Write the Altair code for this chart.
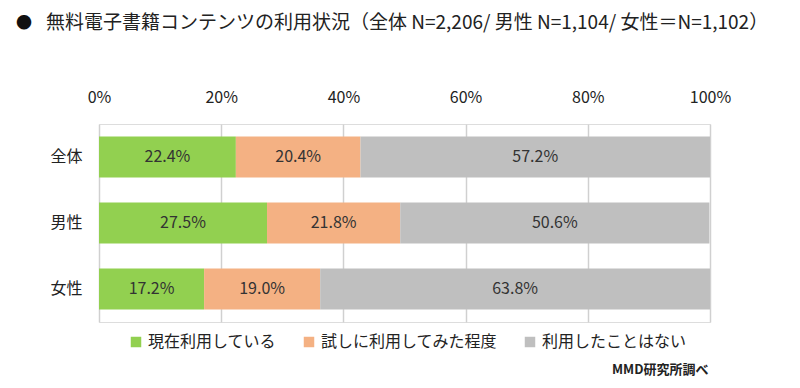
import altair as alt
import pandas as pd

categories = ["全体", "男性", "女性"]
series = ["現在利用している", "試しに利用してみた程度", "利用したことはない"]
colors = ["#92D050", "#F4B183", "#BFBFBF"]
values = {
    "現在利用している": [22.4, 27.5, 17.2],
    "試しに利用してみた程度": [20.4, 21.8, 19.0],
    "利用したことはない": [57.2, 50.6, 63.8],
}
title_text = "無料電子書籍コンテンツの利用状況（全体 N=2,206/ 男性 N=1,104/ 女性＝N=1,102）"
credit = "MMD研究所調べ"

rows = []
for ci, c in enumerate(categories):
    for si, s in enumerate(series):
        rows.append({"cat": c, "series": s, "order": si, "value": values[s][ci],
                     "label": f"{values[s][ci]:.1f}%"})
df = pd.DataFrame(rows)

FONT = "Noto Sans CJK JP"

base = alt.Chart(df).encode(
    y=alt.Y("cat:N", sort=categories, title=None,
            scale=alt.Scale(paddingInner=0.38, paddingOuter=0.19),
            axis=alt.Axis(labelFontSize=16, labelFont=FONT, labelColor="#222",
                          ticks=False, domain=False, labelPadding=17)),
)

bars = base.mark_bar().encode(
    x=alt.X("value:Q", stack="zero", title=None,
            scale=alt.Scale(domain=[0, 100], nice=False),
            axis=alt.Axis(orient="top", values=[0, 20, 40, 60, 80, 100],
                          labelExpr="datum.value + '%'", labelFontSize=16,
                          labelFont=FONT, labelColor="#222", ticks=False,
                          labelFlush=False, labelOverlap=False,
                          domain=False, labelPadding=19, grid=True,
                          gridColor="#D0D0D0", gridWidth=1.5)),
    color=alt.Color("series:N", sort=series,
                    scale=alt.Scale(domain=series, range=colors),
                    legend=alt.Legend(title=None, orient="none", direction="horizontal",
                                      legendX=29, legendY=210, symbolType="square",
                                      symbolSize=110, symbolStrokeWidth=0,
                                      labelFontSize=16, labelFont=FONT, labelColor="#222",
                                      labelLimit=0, columnPadding=24, labelOffset=4)),
    order=alt.Order("order:Q"),
)

labels = base.mark_text(fontSize=16, font=FONT, color="#333").encode(
    x=alt.X("value:Q", stack="zero", bandPosition=0.5),
    text="label:N",
    order=alt.Order("order:Q"),
)

bullet = alt.Chart(pd.DataFrame({"t": ["●"]})).mark_text(
    align="left", baseline="middle", fontSize=16, font=FONT, color="#111"
).encode(x=alt.value(-83), y=alt.value(-101), text="t:N")

title = alt.Chart(pd.DataFrame({"t": [title_text]})).mark_text(
    align="left", baseline="middle", fontSize=19, font=FONT, color="#222"
).encode(x=alt.value(-53), y=alt.value(-101), text="t:N")

cred = alt.Chart(pd.DataFrame({"t": [credit]})).mark_text(
    align="left", baseline="middle", fontSize=13, font=FONT, color="#222",
    fontWeight="bold"
).encode(x=alt.value(513), y=alt.value(246), text="t:N")

chart = alt.layer(bars, labels, bullet, title, cred).properties(
    width=611, height=198,
    autosize=alt.AutoSizeParams(type="none"),
    padding={"left": 91, "top": 116, "right": 82, "bottom": 58},
).configure_view(stroke=None).configure(background="white")

chart.save("out.html", embed_options={"renderer": "svg", "actions": False})
